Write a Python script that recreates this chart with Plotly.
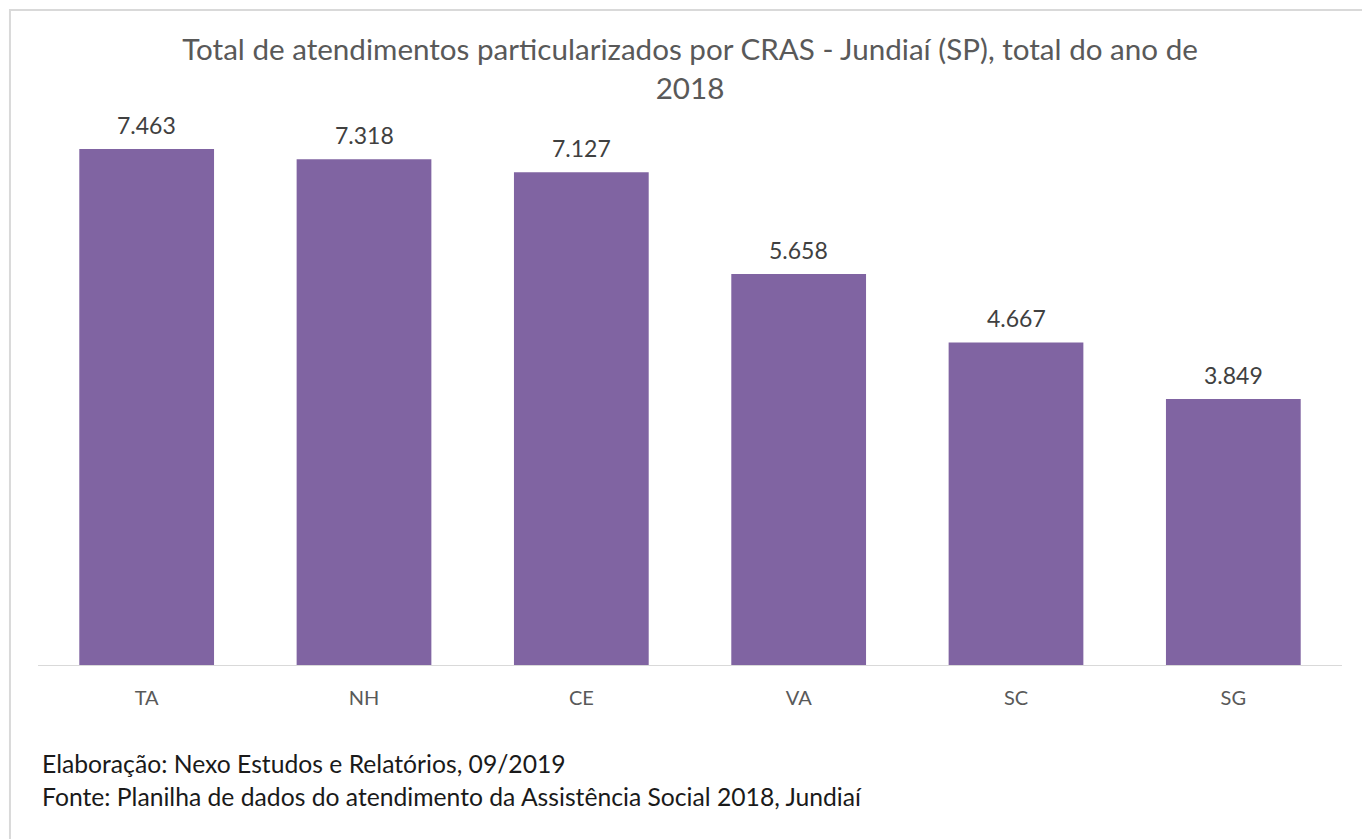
import plotly.graph_objects as go

# CRAS units and the yearly totals of individual attendances (2018)
cras = ["TA", "NH", "CE", "VA", "SC", "SG"]
atendimentos = [7463, 7318, 7127, 5658, 4667, 3849]

title_text = "Total de atendimentos particularizados por CRAS - Jundiaí (SP), total do ano de<br>2018"
footer_lines = [
    "Elaboração: Nexo Estudos e Relatórios, 09/2019",
    "Fonte: Planilha de dados do atendimento da Assistência Social 2018, Jundiaí",
]

FONT = "Lato, 'Open Sans', sans-serif"
BAR_COLOR = "#8064A2"

fig = go.Figure(
    go.Bar(
        x=cras,
        y=atendimentos,
        marker=dict(color=BAR_COLOR, line=dict(width=0)),
        hovertemplate="%{x}: %{y:,}<extra></extra>",
    )
)

# value labels above each bar
annotations = [
    dict(
        x=c, y=v, xref="x", yref="y",
        text=f"{v:,}".replace(",", "."),
        showarrow=False, yanchor="bottom", yshift=8,
        font=dict(family=FONT, size=23, color="#404040"),
    )
    for c, v in zip(cras, atendimentos)
]

# source notes below the chart
footer_y = [-0.178, -0.237]
for line, fy in zip(footer_lines, footer_y):
    annotations.append(
        dict(
            x=0.0015, y=fy, xref="paper", yref="paper",
            text=line, showarrow=False, xanchor="left", yanchor="middle",
            font=dict(family=FONT, size=24.7, color="#1a1a1a"),
        )
    )

fig.update_layout(
    width=1362,
    height=839,
    margin=dict(l=38, r=20, t=112, b=174),
    paper_bgcolor="white",
    plot_bgcolor="white",
    separators=",.",
    bargap=0.38,
    showlegend=False,
    title=dict(
        text=title_text,
        x=0.5, xref="paper", xanchor="center",
        y=0.928, yref="container", yanchor="top",
        font=dict(family=FONT, size=29.6, color="#595959"),
    ),
    xaxis=dict(
        showline=True, linecolor="#D9D9D9", linewidth=1,
        ticks="outside", ticklen=15, tickcolor="rgba(0,0,0,0)",
        tickfont=dict(family=FONT, size=20, color="#595959"),
        showgrid=False, zeroline=False, fixedrange=True,
    ),
    yaxis=dict(
        range=[0, 8000], visible=False, showgrid=False, zeroline=False,
        fixedrange=True,
    ),
    annotations=annotations,
    shapes=[
        dict(
            type="rect", xref="paper", yref="paper",
            x0=-0.0215, x1=1.2, y0=-0.6, y1=1.1844,
            line=dict(color="#D9D9D9", width=2),
            fillcolor="rgba(0,0,0,0)", layer="below",
        )
    ],
)

fig.write_html("out.html")
